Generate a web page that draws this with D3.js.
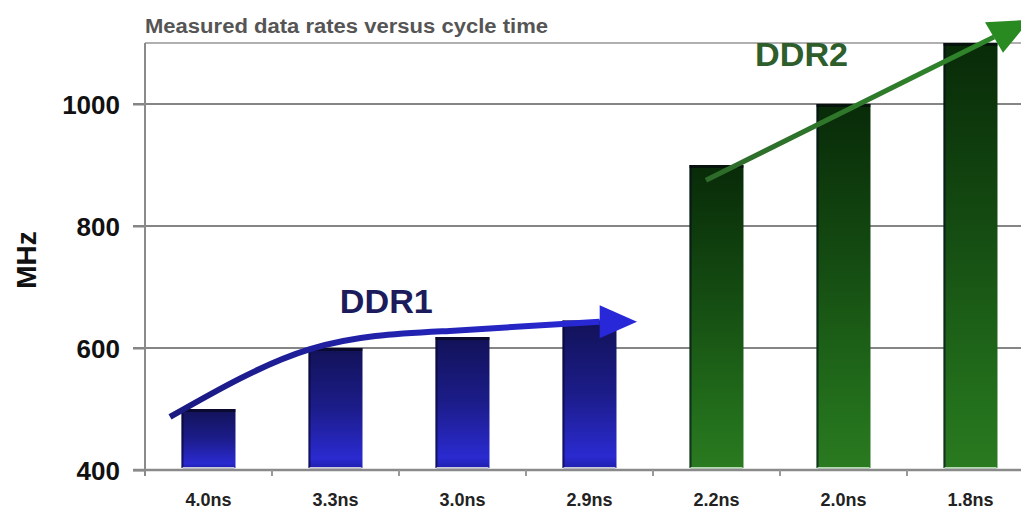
<!DOCTYPE html>
<html>
<head>
<meta charset="utf-8">
<script src="https://cdn.jsdelivr.net/npm/d3@7"></script>
<style>
html,body{margin:0;padding:0;background:#fff;}
svg{display:block;}
</style>
</head>
<body>
<svg id="chart" width="1021" height="509"></svg>
<script>
// ---- data ----
const categories = ["4.0ns","3.3ns","3.0ns","2.9ns","2.2ns","2.0ns","1.8ns"];
const values     = [500, 600, 618, 645, 900, 1000, 1100];
const generation = ["DDR1","DDR1","DDR1","DDR1","DDR2","DDR2","DDR2"];
const yTicks     = [400, 600, 800, 1000];
const yDomain    = [400, 1100];
const titleText  = "Measured data rates versus cycle time";
const yLabel     = "MHz";
// annotation arrows: [category index position, MHz]
const ddr1Path   = [[0.197,487],[1.30,598],[2.40,628],[3.58,643]];
const ddr1Head   = [[3.58,670],[3.874,643],[3.58,616]];
const ddr2Path   = [[4.417,875],[6.685,1110]];
const ddr2Head   = [[6.614,1134],[6.969,1138],[6.756,1084]];
const ddr1Label  = {text:"DDR1", i:1.90, v:658};
const ddr2Label  = {text:"DDR2", i:5.17, v:1063};

// ---- layout ----
const svg = d3.select("#chart");
const plotLeft = 145, step = 127, plotTop = 43, plotBottom = 470;
const x = d3.scaleBand().domain(categories).range([plotLeft, plotLeft + step*categories.length]).paddingInner(0.575).paddingOuter(0.2875);
const xi = d3.scaleLinear().domain([0, categories.length]).range([plotLeft, plotLeft + step*categories.length]);
const y = d3.scaleLinear().domain(yDomain).range([plotBottom, plotTop]);

const defs = svg.append("defs");
const gBlue = defs.append("linearGradient").attr("id","gBlue").attr("x1",0).attr("y1",0).attr("x2",0).attr("y2",1);
[[0,"#121258"],[0.5,"#1c1c8a"],[0.92,"#2a2ad0"],[1,"#2020b0"]].forEach(s=>gBlue.append("stop").attr("offset",s[0]).attr("stop-color",s[1]));
const gGreen = defs.append("linearGradient").attr("id","gGreen").attr("x1",0).attr("y1",0).attr("x2",0).attr("y2",1);
[[0,"#082a08"],[0.45,"#154d12"],[0.85,"#23701c"],[1,"#2a7a20"]].forEach(s=>gGreen.append("stop").attr("offset",s[0]).attr("stop-color",s[1]));
const aBlue = defs.append("linearGradient").attr("id","aBlue").attr("gradientUnits","userSpaceOnUse")
  .attr("x1",xi(0.2)).attr("y1",0).attr("x2",xi(3.9)).attr("y2",0);
[[0,"#1a1a80"],[1,"#2a2ae0"]].forEach(s=>aBlue.append("stop").attr("offset",s[0]).attr("stop-color",s[1]));
const aGreen = defs.append("linearGradient").attr("id","aGreen").attr("gradientUnits","userSpaceOnUse")
  .attr("x1",xi(4.4)).attr("y1",0).attr("x2",xi(7)).attr("y2",0);
[[0,"#2e6a2a"],[1,"#2f8a2a"]].forEach(s=>aGreen.append("stop").attr("offset",s[0]).attr("stop-color",s[1]));

// title
svg.append("text").attr("x", plotLeft).attr("y", 33)
  .attr("font-family","Liberation Sans, Arial, sans-serif").attr("font-size",20).attr("font-weight","bold")
  .attr("fill","#555").attr("textLength",403).attr("lengthAdjust","spacingAndGlyphs")
  .text(titleText);

// top border
svg.append("line").attr("x1",plotLeft).attr("x2",1021).attr("y1",y(yDomain[1])).attr("y2",y(yDomain[1]))
  .attr("stroke","#b0b0b0").attr("stroke-width",2);

// grid lines
svg.append("g").selectAll("line").data(yTicks.filter(t=>t>yDomain[0])).join("line")
  .attr("x1",133).attr("x2",1021).attr("y1",d=>y(d)).attr("y2",d=>y(d))
  .attr("stroke","#858585").attr("stroke-width",2);

// y axis
const yAxis = svg.append("g").attr("transform",`translate(${plotLeft},0)`)
  .call(d3.axisLeft(y).tickValues(yTicks).tickSize(12).tickPadding(13).tickFormat(d3.format("d")));
yAxis.select(".domain").remove();
yAxis.selectAll(".tick line").attr("stroke","#858585").attr("stroke-width",2);
yAxis.selectAll(".tick text").attr("font-family","Liberation Sans, Arial, sans-serif")
  .attr("font-size",26).attr("font-weight","bold").attr("fill","#111").attr("dy","0.36em");
svg.append("line").attr("x1",plotLeft).attr("x2",plotLeft).attr("y1",plotTop).attr("y2",plotBottom+6)
  .attr("stroke","#8a8a8a").attr("stroke-width",2);

// y label
svg.append("text").attr("transform",`translate(36,260) rotate(-90)`).attr("text-anchor","middle")
  .attr("font-family","Liberation Sans, Arial, sans-serif").attr("font-size",28).attr("font-weight","bold")
  .attr("fill","#111").text(yLabel);

// bars
const bars = svg.append("g").selectAll("g").data(categories.map((c,i)=>({c, v:values[i], g:generation[i]}))).join("g");
bars.append("rect").attr("x",d=>x(d.c)).attr("width",x.bandwidth())
  .attr("y",d=>y(d.v)).attr("height",d=>plotBottom-2-y(d.v))
  .attr("fill",d=>d.g==="DDR1"?"url(#gBlue)":"url(#gGreen)");
bars.append("rect").attr("x",d=>x(d.c)).attr("width",2)
  .attr("y",d=>y(d.v)).attr("height",d=>plotBottom-2-y(d.v)).attr("fill","#050520").attr("opacity",0.6);
bars.append("rect").attr("x",d=>x(d.c)).attr("width",x.bandwidth())
  .attr("y",d=>y(d.v)).attr("height",3).attr("fill","#050510").attr("opacity",0.6);
bars.append("rect").attr("x",d=>x(d.c)+1).attr("width",x.bandwidth()-2)
  .attr("y",plotBottom-3).attr("height",2).attr("fill",d=>d.g==="DDR1"?"#c8c8d8":"#b8d8b8");

// x axis
svg.append("line").attr("x1",133).attr("x2",1021).attr("y1",plotBottom).attr("y2",plotBottom)
  .attr("stroke","#8a8a8a").attr("stroke-width",2.5);
svg.append("g").selectAll("line").data(d3.range(1,categories.length)).join("line")
  .attr("x1",d=>xi(d)).attr("x2",d=>xi(d)).attr("y1",plotBottom).attr("y2",plotBottom+6)
  .attr("stroke","#999").attr("stroke-width",2);
svg.append("g").selectAll("text").data(categories).join("text")
  .attr("x",d=>x(d)+x.bandwidth()/2).attr("y",506).attr("text-anchor","middle")
  .attr("font-family","Liberation Sans, Arial, sans-serif").attr("font-size",18).attr("font-weight","bold")
  .attr("fill","#222").text(d=>d);

// arrows
const curve = d3.line().x(d=>xi(d[0])).y(d=>y(d[1])).curve(d3.curveNatural);
const poly = d3.line().x(d=>xi(d[0])).y(d=>y(d[1]));
svg.append("path").attr("d",curve(ddr1Path)).attr("fill","none").attr("stroke","url(#aBlue)")
  .attr("stroke-width",6).attr("stroke-linecap","butt");
svg.append("path").attr("d",poly(ddr1Head)+"Z").attr("fill","#2828d8");
svg.append("path").attr("d",poly(ddr2Path)).attr("fill","none")
  .attr("stroke","url(#aGreen)").attr("stroke-width",5);
svg.append("path").attr("d",poly(ddr2Head)+"Z").attr("fill","#2a8a22");

// labels
[[ddr1Label,"#1c1c5c"],[ddr2Label,"#2d5e2b"]].forEach(([l,c])=>{
  svg.append("text").attr("x",xi(l.i)).attr("y",y(l.v)).attr("text-anchor","middle")
    .attr("font-family","Liberation Sans, Arial, sans-serif").attr("font-size",33).attr("font-weight","bold")
    .attr("fill",c).attr("textLength",93).attr("lengthAdjust","spacingAndGlyphs").text(l.text);
});
</script>
</body>
</html>
